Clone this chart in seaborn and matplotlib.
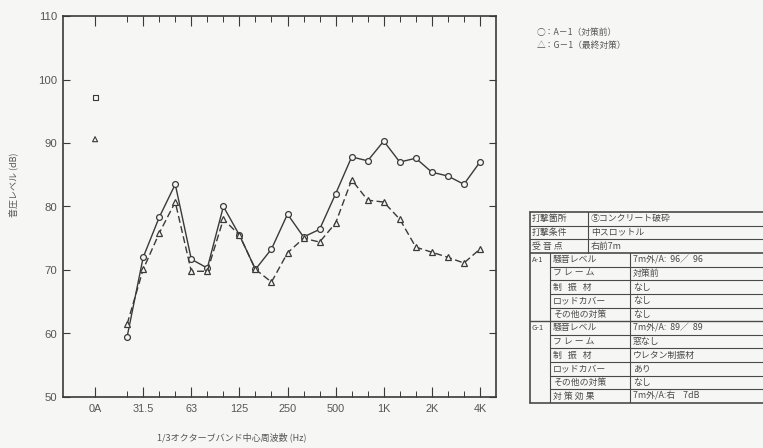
import numpy as np
import pandas as pd
import matplotlib
matplotlib.use('Agg')
import matplotlib.pyplot as plt
import seaborn as sns

# データ
freq_labels = ['25', '31.5', '40', '50', '63', '80', '100', '125', '160', '200', '250',
               '315', '400', '500', '630', '800', '1K', '1.25K', '1.6K', '2K', '2.5K',
               '3.15K', '4K']
a1_levels = [59.5, 72.0, 78.3, 83.5, 71.7, 70.3, 80.0, 75.5, 70.1, 73.3, 78.8,
             75.2, 76.4, 82.0, 87.8, 87.2, 90.3, 87.0, 87.6, 85.4, 84.8, 83.5, 87.0]
g1_levels = [61.5, 70.1, 75.8, 80.7, 69.8, 69.8, 78.0, 75.5, 70.1, 68.1, 72.7,
             75.0, 74.4, 77.4, 84.2, 81.0, 80.7, 78.0, 73.6, 72.8, 72.0, 71.1, 73.3]
oa_a1 = 97.2
oa_g1 = 90.6

major_labels = ['0A', '31.5', '63', '125', '250', '500', '1K', '2K', '4K']

legend_lines = ['○：A－1（対策前）', '△：G－1（最終対策）']

table_top = [('打撃箇所', '⑤コンクリート破砕'),
             ('打撃条件', '中スロットル'),
             ('受 音 点', '右前7m')]
table_a1 = [('騒音レベル', '7m外/A:  96／  96'),
            ('フ レ ー ム', '対策前'),
            ('制   振   材', 'なし'),
            ('ロッドカバー', 'なし'),
            ('その他の対策', 'なし')]
table_g1 = [('騒音レベル', '7m外/A:  89／  89'),
            ('フ レ ー ム', '窓なし'),
            ('制   振   材', 'ウレタン制振材'),
            ('ロッドカバー', 'あり'),
            ('その他の対策', 'なし')]
table_effect = ('対 策 効 果', '7m外/A:右    7dB')

# 位置（0A=0, 25Hz=2 ... 4K=24）
pos = np.arange(2, 2 + len(freq_labels))
df = pd.DataFrame({'pos': np.concatenate([pos, pos]),
                   'level': a1_levels + g1_levels,
                   'series': ['A-1'] * len(pos) + ['G-1'] * len(pos)})
df_oa = pd.DataFrame({'pos': [0, 0], 'level': [oa_a1, oa_g1], 'series': ['A-1', 'G-1']})

sns.set_style('white')
plt.rcParams['font.family'] = ['Noto Sans CJK JP', 'DejaVu Sans']

bg = '#f6f6f4'
ink = '#3a3a3a'

fig = plt.figure(figsize=(7.63, 4.48), dpi=100, facecolor=bg)
ax = fig.add_axes([63 / 763, 1 - 397 / 448, 433 / 763, 381 / 448])
ax.set_facecolor(bg)

sns.lineplot(data=df, x='pos', y='level', style='series', markers={'A-1': 'o', 'G-1': '^'},
             dashes={'A-1': '', 'G-1': (5, 2.5)}, color=ink, linewidth=1.0,
             markersize=4.2, markerfacecolor=bg, markeredgecolor=ink, markeredgewidth=0.9,
             legend=False, ax=ax)
sns.scatterplot(data=df_oa, x='pos', y='level', style='series', markers={'A-1': 's', 'G-1': '^'},
                s=13, facecolor=bg, edgecolor=ink, linewidth=0.8, legend=False, ax=ax)

ax.set_xlim(-2, 25)
ax.set_ylim(50, 110)
ax.set_xticks([0, 3, 6, 9, 12, 15, 18, 21, 24])
ax.set_xticklabels(major_labels, fontsize=7.8, family=['Liberation Sans', 'DejaVu Sans'],
                   color='#555555')
ax.set_xticks(pos, minor=True)
ax.set_yticks(range(50, 111, 10))
ax.set_yticklabels([str(v) for v in range(50, 111, 10)], fontsize=8.2,
                   family=['Liberation Sans', 'DejaVu Sans'], color='#555555')
ax.tick_params(axis='x', which='major', direction='in', length=7, width=0.8, top=True,
               bottom=True, colors=ink, labelcolor='#555555', pad=5)
ax.tick_params(axis='x', which='minor', direction='in', length=4, width=0.7, top=True,
               bottom=True, colors=ink)
ax.tick_params(axis='y', which='major', direction='in', length=5, width=0.8, left=True,
               right=True, colors=ink, labelcolor='#555555', pad=4)
ax.set_xlabel('')
ax.set_ylabel('')
for sp in ax.spines.values():
    sp.set_color(ink)
    sp.set_linewidth(1.2)

fig.text(232 / 763, 1 - 437 / 448, '1/3オクターブバンド中心周波数 (Hz)', fontsize=6.5,
         color='#555555', ha='center', va='center')
fig.text(13 / 763, 1 - 185 / 448, '音圧レベル (dB)', fontsize=6.5, color='#555555',
         rotation=90, ha='center', va='center')

# 凡例
fig.text(537 / 763, 1 - 33 / 448, legend_lines[0], fontsize=6.3, color='#555555', va='center')
fig.text(537 / 763, 1 - 45 / 448, legend_lines[1], fontsize=6.3, color='#555555', va='center')

# 表
tx = fig.add_axes([530 / 763, 1 - 403 / 448, 233 / 763, 191 / 448])
tx.set_xlim(530, 763)
tx.set_ylim(403, 212)
tx.axis('off')
rh = 191 / 14
lw = 0.8
tc = '#4a4a4a'
R = 763
tx.plot([530, R], [212, 212], color=tc, lw=1.2, clip_on=False)
tx.plot([530, R], [403, 403], color=tc, lw=1.2, clip_on=False)
tx.plot([530, 530], [212, 403], color=tc, lw=1.2, clip_on=False)
for i in [1, 2]:
    tx.plot([530, R], [212 + i * rh] * 2, color=tc, lw=lw)
tx.plot([530, R], [212 + 3 * rh] * 2, color=tc, lw=1.2)
tx.plot([530, R], [212 + 8 * rh] * 2, color=tc, lw=1.0)
for i in [4, 5, 6, 7, 9, 10, 11, 12, 13]:
    tx.plot([550, R], [212 + i * rh] * 2, color=tc, lw=lw)
tx.plot([588, 588], [212, 212 + 3 * rh], color=tc, lw=lw)
tx.plot([550, 550], [212 + 3 * rh, 403], color=tc, lw=lw)
tx.plot([630, 630], [212 + 3 * rh, 403], color=tc, lw=lw)

fs = 6.4
for i, (lab, val) in enumerate(table_top):
    yc = 212 + (i + 0.5) * rh
    tx.text(532, yc, lab, fontsize=fs, va='center', ha='left', color=tc)
    tx.text(591, yc, val, fontsize=fs, va='center', ha='left', color=tc)
for g, (name, rows) in enumerate([('A-1', table_a1), ('G-1', table_g1)]):
    base = 3 + g * 5
    tx.text(532, 212 + (base + 0.5) * rh, name, fontsize=5.5, va='center', ha='left',
            color=tc)
    for j, (lab, val) in enumerate(rows):
        yc = 212 + (base + j + 0.5) * rh
        tx.text(553, yc, lab, fontsize=fs, va='center', ha='left', color=tc)
        tx.text(633, yc, val, fontsize=fs, va='center', ha='left', color=tc)
tx.text(553, 212 + 13.5 * rh, table_effect[0], fontsize=fs, va='center', ha='left', color=tc)
tx.text(633, 212 + 13.5 * rh, table_effect[1], fontsize=fs, va='center', ha='left', color=tc)

fig.savefig('out.png', dpi=100, facecolor=bg)
